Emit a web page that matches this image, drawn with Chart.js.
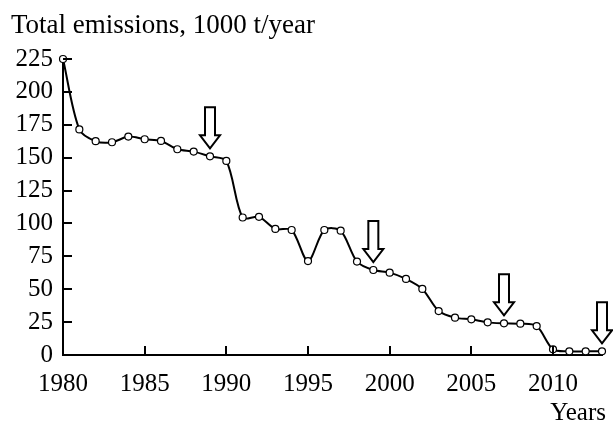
<!DOCTYPE html>
<html>
<head>
<meta charset="utf-8">
<script src="https://cdn.jsdelivr.net/npm/chart.js@4/dist/chart.umd.min.js"></script>
<style>
html, body { margin: 0; padding: 0; background: #fff; }
#wrap { width: 613px; height: 422px; }
</style>
</head>
<body>
<div id="wrap"><canvas id="grafica" width="613" height="422"></canvas></div>
<script>
const years = [1980, 1981, 1982, 1983, 1984, 1985, 1986, 1987, 1988, 1989,
  1990, 1991, 1992, 1993, 1994, 1995, 1996, 1997, 1998, 1999,
  2000, 2001, 2002, 2003, 2004, 2005, 2006, 2007, 2008, 2009,
  2010, 2011, 2012, 2013]
const emissions = [225, 171.5, 162.5, 161.7, 166, 164, 162.7, 156.4, 154.6, 151,
  147.5, 104.5, 105, 95.8, 95, 71.4, 95, 94.5, 71, 64.6,
  62.6, 57.8, 50.2, 33.4, 28.4, 27.1, 24.8, 24.1, 23.8, 22,
  4.3, 2.8, 2.8, 2.8]
const arrowYears = [1989, 1999, 2007, 2013]
const xTicks = [1980, 1985, 1990, 1995, 2000, 2005, 2010]
const yTicks = [0, 25, 50, 75, 100, 125, 150, 175, 200, 225]

const yTitle = "Total emissions, 1000 t/year"
const xTitle = "Years"

const FONT = "'Liberation Serif', 'Times New Roman', serif"
const ctx = document.getElementById('grafica').getContext('2d')

// marcas de los ejes hacia adentro
const innerTicks = {
  id: 'innerTicks',
  afterDraw(chart) {
    const c = chart.ctx, x = chart.scales.x, y = chart.scales.y, a = chart.chartArea
    c.save()
    c.strokeStyle = '#000'
    c.lineWidth = 2
    xTicks.forEach(t => {
      const px = Math.round(x.getPixelForValue(t))
      c.beginPath(); c.moveTo(px, a.bottom); c.lineTo(px, a.bottom - 9); c.stroke()
    })
    yTicks.forEach(t => {
      const py = Math.round(y.getPixelForValue(t))
      c.beginPath(); c.moveTo(a.left, py); c.lineTo(a.left + 9, py); c.stroke()
    })
    c.restore()
  }
}

// flechas huecas
const arrows = {
  id: 'arrows',
  afterDatasetsDraw(chart) {
    const c = chart.ctx, x = chart.scales.x, y = chart.scales.y
    c.save()
    c.strokeStyle = '#000'
    c.fillStyle = '#fff'
    c.lineWidth = 2
    c.lineJoin = 'miter'
    arrowYears.forEach(yr => {
      const v = emissions[years.indexOf(yr)]
      const px = x.getPixelForValue(yr)
      const tip = y.getPixelForValue(v) - 8
      const top = tip - 41, neck = tip - 13
      c.beginPath()
      c.moveTo(px - 5, top)
      c.lineTo(px + 5, top)
      c.lineTo(px + 5, neck)
      c.lineTo(px + 10, neck)
      c.lineTo(px, tip)
      c.lineTo(px - 10, neck)
      c.lineTo(px - 5, neck)
      c.closePath()
      c.fill()
      c.stroke()
    })
    c.restore()
  }
}

const titles = {
  id: 'titles',
  afterDraw(chart) {
    const c = chart.ctx
    c.save()
    c.fillStyle = '#000'
    c.textBaseline = 'alphabetic'
    c.font = '27px ' + FONT
    c.textAlign = 'left'
    c.fillText(yTitle, 11, 33)
    c.font = '25px ' + FONT
    c.textAlign = 'right'
    c.fillText(xTitle, 606, 420)
    c.restore()
  }
}

new Chart(ctx, {
  type: 'line',
  data: {
    datasets: [{
      data: years.map((yr, i) => ({ x: yr, y: emissions[i] })),
      borderColor: '#000',
      borderWidth: 2,
      tension: 0.3,
      pointRadius: 3.5,
      pointBackgroundColor: '#fff',
      pointBorderColor: '#000',
      pointBorderWidth: 1.2,
      clip: false
    }]
  },
  options: {
    responsive: false,
    animation: false,
    layout: { padding: { top: 59, right: 11, left: 0, bottom: 0 } },
    plugins: { legend: { display: false }, tooltip: { enabled: false } },
    scales: {
      x: {
        type: 'linear',
        min: 1980,
        max: 2013,
        afterBuildTicks: s => { s.ticks = xTicks.map(v => ({ value: v })) },
        afterFit: s => { s.height = 67 },
        grid: { display: false, drawTicks: false },
        border: { display: true, color: '#000', width: 2 },
        ticks: { color: '#000', padding: 14, maxRotation: 0, autoSkip: false, font: { family: FONT, size: 25 }, callback: v => String(v) }
      },
      y: {
        min: 0,
        max: 225,
        afterBuildTicks: s => { s.ticks = yTicks.map(v => ({ value: v })) },
        afterFit: s => { s.width = 63 },
        grid: { display: false, drawTicks: false },
        border: { display: true, color: '#000', width: 2 },
        ticks: { color: '#000', padding: 10, autoSkip: false, font: { family: FONT, size: 25 } }
      }
    }
  },
  plugins: [innerTicks, arrows, titles]
})
</script>
</body>
</html>
